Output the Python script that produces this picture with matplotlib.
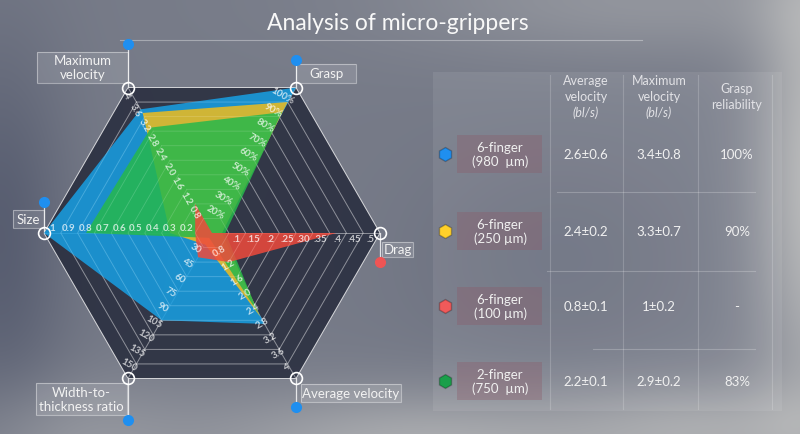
import numpy as np
import matplotlib
matplotlib.use('Agg')
import matplotlib.pyplot as plt
from matplotlib.patches import Rectangle

# ---------------- data ----------------
axis_names = ['Maximum\nvelocity', 'Grasp', 'Drag', 'Average velocity',
              'Width-to-\nthickness ratio', 'Size']
axis_angles_deg = [120, 60, 0, 300, 240, 180]
axis_max = [4.0, 100.0, 0.5, 4.0, 150.0, 1.0]
tick_labels = [
    ['0.4', '0.8', '1.2', '1.6', '2.0', '2.4', '2.8', '3.2', '3.6', '4'],
    ['10%', '20%', '30%', '40%', '50%', '60%', '70%', '80%', '90%', '100%'],
    ['.05', '.1', '.15', '.2', '.25', '.30', '.35', '.4', '.45', '.5'],
    ['0.4', '0.8', '1.2', '1.6', '2.0', '2.4', '2.8', '3.2', '3.6', '4'],
    ['15', '30', '45', '60', '75', '90', '105', '120', '135', '150'],
    ['0.1', '0.2', '0.3', '0.4', '0.5', '0.6', '0.7', '0.8', '0.9', '1'],
]

series_names = ['6-finger\n(980  µm)', '6-finger\n(250 µm)',
                '6-finger\n(100 µm)', '2-finger\n(750  µm)']
series_colors = ['#18a0e4', '#f0bc1c', '#f04a3c', '#26b84c']
marker_colors = ['#1f8ff0', '#ffd02a', '#f05a5a', '#1a9f4a']
# values in axis order: max vel, grasp, drag, avg vel, width/thickness, size
blue_vals = [3.4, 100, 0.02, 2.5, 90, 1.0]
yellow_vals = [3.3, 90, 0.03, 2.3, 12, 0.25]
red_vals = [0.8, 0, 0.37, 0.8, 25, 0.1]
green_vals = [2.9, 83, 0.04, 2.2, 5, 0.75]
series_vals = [blue_vals, yellow_vals, red_vals, green_vals]
draw_order = [0, 1, 3, 2]

col_headers = [['Average', 'velocity', '(bl/s)'],
               ['Maximum', 'velocity', '(bl/s)'],
               ['Grasp', 'reliability']]
avg_velocity = ['2.6±0.6', '2.4±0.2', '0.8±0.1', '2.2±0.1']
max_velocity = ['3.4±0.8', '3.3±0.7', '1±0.2', '2.9±0.2']
grasp_rel = ['100%', '90%', '-', '83%']

# ---------------- figure ----------------
plt.rcParams['font.family'] = ['Lato', 'DejaVu Sans']
W, H = 800, 435
fig = plt.figure(figsize=(8.0, 4.35), dpi=100)

bg = fig.add_axes([0, 0, 1, 1])
bg.set_xlim(0, W)
bg.set_ylim(H, 0)
bg.axis('off')

# blurred grey background
yy, xx = np.mgrid[0:H, 0:W]
w = (0.30
     + 0.22 * np.exp(-((xx - 650) ** 2 / 260 ** 2 + (yy - 0) ** 2 / 60 ** 2))
     + 0.40 * np.exp(-((xx - 420) ** 2 / 230 ** 2 + (yy - 445) ** 2 / 55 ** 2))
     + 0.55 * np.exp(-((xx - 815) ** 2 / 60 ** 2 + (yy - 180) ** 2 / 260 ** 2))
     + 0.35 * np.exp(-((xx - 720) ** 2 / 150 ** 2 + (yy - 430) ** 2 / 50 ** 2))
     + 0.20 * np.exp(-((xx - 60) ** 2 / 120 ** 2 + (yy - 440) ** 2 / 60 ** 2))
     - 0.25 * np.exp(-((xx - 0) ** 2 / 70 ** 2 + (yy - 240) ** 2 / 200 ** 2))
     - 0.10 * np.exp(-((xx - 560) ** 2 / 140 ** 2 + (yy - 260) ** 2 / 110 ** 2)))
w = np.clip(w, 0, 1)[..., None]
dark = np.array([82, 88, 108]) / 255.0
light = np.array([205, 205, 202]) / 255.0
img = dark * (1 - w) + light * w
bg.imshow(img, extent=(0, W, H, 0), zorder=-10, aspect='auto')

# title
bg.text(398, 24, 'Analysis of micro-grippers', ha='center', va='center',
        fontsize=16.5, color='#f8f8f8', fontweight='normal')
bg.plot([120, 642], [40.5, 40.5], color='white', alpha=0.35, lw=0.8)

# ---------------- radar ----------------
cx, cy, R = 212, 234, 168
ax = fig.add_axes([(cx - R) / W, (H - cy - R) / H, 2 * R / W, 2 * R / H],
                  projection='polar')
ax.set_theta_zero_location('E')
ax.set_ylim(0, 1)
ax.axis('off')

theta = np.deg2rad(axis_angles_deg)
theta_c = np.append(theta, theta[0])

# dark hexagon background
ax.fill(theta_c, np.ones(7), color='#262b3c', alpha=0.85, zorder=0, lw=0)
# rings
for k in range(1, 11):
    r = k / 10
    ax.plot(theta_c, np.full(7, r), color='white', alpha=0.35 if k < 10 else 0.7,
            lw=0.7, zorder=1)
    ax.plot(theta_c, np.full(7, r), color='white', alpha=0.16, lw=0.6, zorder=4)
# spokes
for t in theta:
    ax.plot([t, t], [0, 1], color='white', alpha=0.45, lw=0.7, zorder=1)

# series fills
for si in draw_order:
    r = np.array(series_vals[si]) / np.array(axis_max)
    r = np.append(r, r[0])
    ax.fill(theta_c, r, color=series_colors[si], alpha=0.85, lw=0, zorder=3)

# tick labels
label_offsets = [(-1, -8), (-14, -8), (-9, -6), (-9, 12), (1, 14), (8, 5)]
label_rot = [-60, -30, 0, 30, -30, 0]
for i, t in enumerate(theta):
    for k in range(2, 11):
        ax.annotate(tick_labels[i][k - 1], xy=(t, k / 10),
                    xytext=label_offsets[i], textcoords='offset pixels',
                    ha='center', va='center', rotation=label_rot[i],
                    fontsize=7, color='white', alpha=0.72, zorder=5,
                    fontweight='bold', annotation_clip=False)

# vertex circles
ax.plot(theta, np.ones(6), 'o', mfc='none', mec='white', ms=8.5, mew=1.2,
        clip_on=False, zorder=10)

# callouts (positions relative to each vertex, in pixels, y downward)
vert_px = ax.transData.transform(np.column_stack([theta, np.ones(6)]))
vert_bg = bg.transData.inverted().transform(vert_px)
dot_dy = [-44, -28, 29, 29, 42, -31]
dot_colors = ['#1f8ff0', '#1f8ff0', '#ef5454', '#1f8ff0', '#1f8ff0', '#1f8ff0']
boxes = [(-91, -36, 91, 31), (0, -24, 60, 19), (2, 9, 31, 15),
         (5, 6, 100, 18), (-92, 5, 91, 32), (-31, -23, 31, 18)]
for i in range(6):
    vx, vy = vert_bg[i]
    bg.plot([vx, vx], [vy, vy + dot_dy[i]], color='white', alpha=0.8, lw=0.9,
            zorder=1)
    bg.plot([vx], [vy + dot_dy[i]], 'o', color=dot_colors[i], ms=7, zorder=2)
    bx, by, bw, bh = boxes[i]
    bg.add_patch(Rectangle((vx + bx, vy + by), bw, bh, facecolor='white',
                           alpha=0.13, edgecolor='none', zorder=1))
    bg.add_patch(Rectangle((vx + bx, vy + by), bw, bh, facecolor='none',
                           edgecolor='white', alpha=0.4, lw=0.8, zorder=1))
    bg.text(vx + bx + bw / 2, vy + by + bh / 2, axis_names[i], ha='center',
            va='center', fontsize=9.5, color='#f2f2f2', linespacing=1.2,
            zorder=3)

# ---------------- table ----------------
bg.add_patch(Rectangle((433, 73), 349, 339, facecolor='white', alpha=0.08,
                       edgecolor='none', zorder=0))
for x in [550, 623, 698, 772]:
    bg.plot([x, x], [76, 410], color='white', alpha=0.18, lw=0.8, zorder=1)
for y, x0 in [(193, 557), (272, 547), (350, 593)]:
    bg.plot([x0, 755], [y, y], color='white', alpha=0.22, lw=0.8, zorder=1)

col_x = [586, 659, 737]
for ci, lines in enumerate(col_headers):
    if len(lines) == 3:
        ys = [81, 97, 113]
    else:
        ys = [89, 105]
    for li, txt in enumerate(lines):
        bg.text(col_x[ci], ys[li], txt, ha='center', va='center', fontsize=9,
                color='#e2e2e6', style='italic' if txt.startswith('(') else 'normal',
                zorder=3)

row_y = [155, 232, 307, 382]
for ri in range(4):
    y = row_y[ri]
    bg.add_patch(Rectangle((457, y - 19), 85, 38, facecolor='#8c5a68',
                           alpha=0.35, edgecolor='none', zorder=1))
    bg.plot([445], [y], 'h', color=marker_colors[ri], ms=10, zorder=3,
            mec='#00000040')
    bg.text(500, y, series_names[ri], ha='center', va='center', fontsize=9.5,
            color='#f0f0f0', linespacing=1.2, zorder=3)
    for ci, vals in enumerate([avg_velocity, max_velocity, grasp_rel]):
        bg.text(col_x[ci], y, vals[ri], ha='center', va='center', fontsize=9.5,
                color='#f0f0f0', zorder=3)

fig.savefig('out.png', dpi=100)
